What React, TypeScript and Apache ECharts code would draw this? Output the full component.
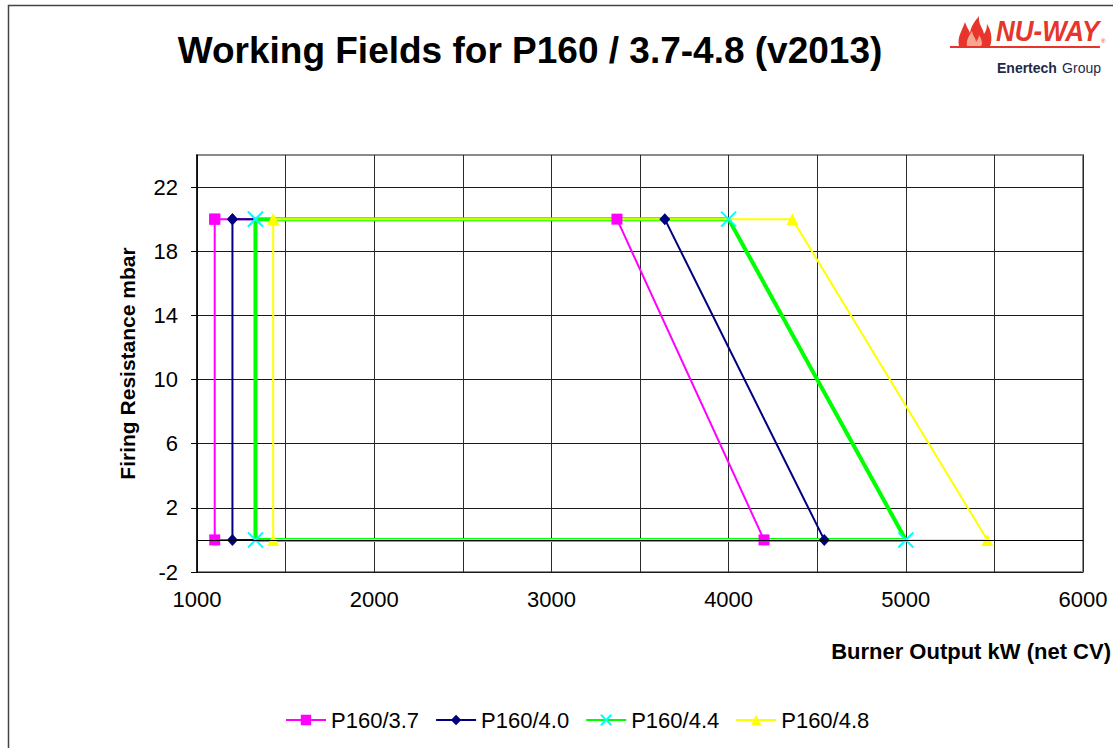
import React, { useEffect, useRef } from "react";
import * as echarts from "echarts";

// Firing resistance (mbar) at each corner of the working field, polygon closed back to start
const resistance = [20, 20, 0, 0, 20];
// Burner output (kW, net CV) at the same corners, per model
const outputP37 = [1100, 3370, 4200, 1100, 1100];
const outputP40 = [1200, 3640, 4540, 1200, 1200];
const outputP44 = [1330, 4000, 5000, 1330, 1330];
const outputP48 = [1430, 4360, 5460, 1430, 1430];
const seriesNames = ["P160/3.7", "P160/4.0", "P160/4.4", "P160/4.8"];
const yTickValues = [-2, 2, 6, 10, 14, 18, 22];
const xLabelValues = [1000, 2000, 3000, 4000, 5000, 6000];

const FONT = "'Liberation Sans', Arial, sans-serif";

let registered = false;
function registerShapes() {
  if (registered) return;
  registered = true;
  echarts.graphic.registerShape(
    "flameOuter",
    echarts.graphic.extendPath(
      "M2,30 C0,21 5,15 8,6 C10,12 12,14 13,17 C14,10 18,5 22,0 C21,8 26,12 27,18 C29,15 30,12 30,8 C34,14 36,23 33,30 Z",
      {}
    )
  );
  echarts.graphic.registerShape(
    "flameInner",
    echarts.graphic.extendPath(
      "M10,30 C9,24 12,20 15,15 C16,21 19,22 19,26 C20,24 22,22 22,19 C25,24 26,28 24,30 Z",
      {}
    )
  );
}

function makeData(xs: number[]) {
  return xs.map((x, i) => [x, resistance[i]]);
}

export default function App() {
  const ref = useRef<HTMLDivElement>(null);

  useEffect(() => {
    if (!ref.current) return;
    registerShapes();
    const chart = echarts.init(ref.current, undefined, { renderer: "svg" });

    const option: any = {
      animation: false,
      backgroundColor: "#fff",
      textStyle: { fontFamily: FONT },
      grid: {
        left: 197,
        top: 155,
        right: 30,
        bottom: 176,
        show: true,
        borderColor: "#8a8a8a",
        borderWidth: 2,
        containLabel: false,
      },
      legend: {
        left: 280,
        top: 704,
        itemWidth: 40,
        itemHeight: 13,
        itemGap: 16,
        textStyle: { fontSize: 22, color: "#000", fontFamily: FONT },
        data: seriesNames,
      },
      xAxis: {
        type: "value",
        min: 1000,
        max: 6000,
        interval: 500,
        axisLine: { show: false, onZero: false },
        axisTick: { show: false },
        splitLine: { show: true, lineStyle: { color: "#2a2a2a", width: 1 } },
        axisLabel: {
          fontSize: 22,
          color: "#000",
          fontFamily: FONT,
          margin: 16,
          customValues: xLabelValues,
          formatter: (v: number) => String(v),
        },
      },
      yAxis: {
        type: "value",
        min: -2,
        max: 24,
        axisLine: { show: true, onZero: false, lineStyle: { color: "#000", width: 1.5 } },
        axisTick: {
          show: true,
          length: 6,
          lineStyle: { color: "#000", width: 1 },
          customValues: yTickValues,
        },
        splitLine: { show: true, lineStyle: { color: "#1a1a1a", width: 1 } },
        axisLabel: {
          fontSize: 22,
          color: "#000",
          fontFamily: FONT,
          margin: 19,
          customValues: yTickValues,
        },
        name: "Firing Resistance mbar",
        nameLocation: "middle",
        nameGap: 59,
        nameTextStyle: { fontSize: 21, fontWeight: "bold", color: "#000", fontFamily: FONT },
      },
      series: [
        {
          name: seriesNames[0],
          type: "line",
          data: makeData(outputP37),
          symbol: "rect",
          symbolSize: 11,
          lineStyle: { color: "#ff00ff", width: 2 },
          itemStyle: { color: "#ff00ff" },
          markLine: {
            silent: true,
            symbol: "none",
            label: { show: false },
            lineStyle: { color: "#000", width: 1.2, type: "solid" },
            data: [{ yAxis: 0 }],
          },
        },
        {
          name: seriesNames[1],
          type: "line",
          data: makeData(outputP40),
          symbol: "diamond",
          symbolSize: [11, 12],
          lineStyle: { color: "#000080", width: 2 },
          itemStyle: { color: "#000080" },
        },
        {
          name: seriesNames[2],
          type: "line",
          data: makeData(outputP44),
          symbol: "path://M0,0L10,10M10,0L0,10",
          symbolSize: 15,
          lineStyle: { color: "#00ff00", width: 4 },
          itemStyle: { color: "rgba(0,0,0,0)", borderColor: "#00ffff", borderWidth: 2 },
        },
        {
          name: seriesNames[3],
          type: "line",
          data: makeData(outputP48),
          symbol: "triangle",
          symbolSize: 12,
          lineStyle: { color: "#ffff00", width: 2 },
          itemStyle: { color: "#ffff00" },
        },
      ],
      graphic: [
        {
          type: "rect",
          shape: { x: 8.5, y: 5.5, width: 1200, height: 800 },
          style: { fill: "none", stroke: "#444", lineWidth: 1.5 },
          silent: true,
          z: -10,
        },
        {
          type: "text",
          x: 530,
          y: 50,
          style: {
            text: "Working Fields for P160 / 3.7-4.8 (v2013)",
            font: `bold 37px ${FONT}`,
            fill: "#000",
            textAlign: "center",
            textVerticalAlign: "middle",
          },
        },
        {
          type: "text",
          x: 1111,
          y: 651,
          style: {
            text: "Burner Output kW (net CV)",
            font: `bold 22px ${FONT}`,
            fill: "#000",
            textAlign: "right",
            textVerticalAlign: "middle",
          },
        },
        // NU-WAY logo
        {
          type: "flameOuter",
          x: 957,
          y: 16,
          scaleX: 1.0,
          scaleY: 1.0,
          style: { fill: "#e8352b" },
        },
        {
          type: "flameInner",
          x: 957,
          y: 16,
          scaleX: 1.0,
          scaleY: 1.0,
          style: { fill: "#f6a78f" },
        },
        {
          type: "text",
          x: 996,
          y: 31,
          scaleY: 1.15,
          style: {
            text: "NU-WAY",
            font: `italic bold 26px ${FONT}`,
            fill: "#e8352b",
            textAlign: "left",
            textVerticalAlign: "middle",
          },
        },
        {
          type: "text",
          x: 1101,
          y: 41,
          style: { text: "®", font: `6px ${FONT}`, fill: "#e8352b", textVerticalAlign: "middle" },
        },
        {
          type: "rect",
          shape: { x: 950, y: 46, width: 150, height: 2 },
          style: { fill: "#e8352b" },
        },
        {
          type: "text",
          x: 997,
          y: 68,
          style: {
            text: "Enertech",
            font: `bold 14px ${FONT}`,
            fill: "#1f2a48",
            textAlign: "left",
            textVerticalAlign: "middle",
          },
        },
        {
          type: "text",
          x: 1101,
          y: 68,
          style: {
            text: "Group",
            font: `14px ${FONT}`,
            fill: "#1f2a48",
            textAlign: "right",
            textVerticalAlign: "middle",
          },
        },
      ],
    };

    chart.setOption(option);
    return () => chart.dispose();
  }, []);

  return (
    <div
      ref={ref}
      style={{ position: "fixed", left: 0, top: 0, width: 1113, height: 748 }}
    />
  );
}
